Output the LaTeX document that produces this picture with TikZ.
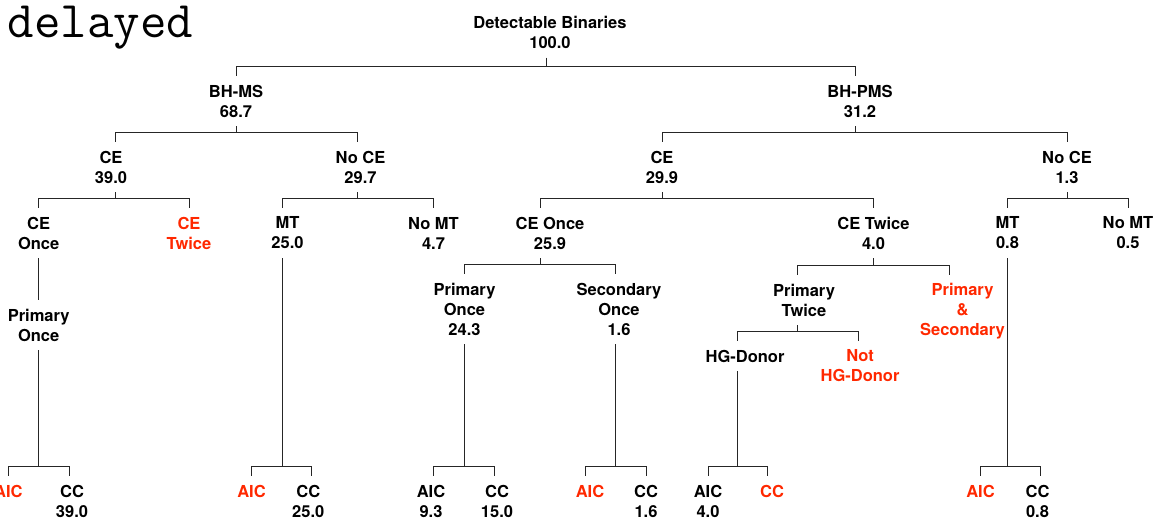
\documentclass[tikz,border=0pt]{standalone}
\usepackage{fontspec}
\setmainfont{TeX Gyre Heros}
\usetikzlibrary{calc}
\definecolor{tred}{RGB}{255,40,0}
\begin{document}
\begin{tikzpicture}[x=1pt,y=-1pt,
  lbl/.style={inner xsep=0pt, inner ysep=9pt, outer sep=0pt, align=center, font=\fontsize{16.5}{20}\selectfont\bfseries},
  hot/.style={lbl, text=tred},
  link/.style={draw=black!85, line width=1pt}]
\useasboundingbox (0,0) rectangle (1159,522);

\node[anchor=base west, inner sep=0pt, font=\fontsize{51.4}{52}\selectfont\ttfamily] (title) at (7.5,37) {delayed};

% level 0-1
\node[lbl] (root) at (550,32.5) {Detectable Binaries\\100.0};
\node[lbl] (bhms) at (236,101) {BH-MS\\68.7};
\node[lbl] (bhpms) at (860,101) {BH-PMS\\31.2};
% level 2
\node[lbl] (ce1) at (111,167) {CE\\39.0};
\node[lbl] (noce1) at (360.5,167) {No CE\\29.7};
\node[lbl] (ce2) at (662,167) {CE\\29.9};
\node[lbl] (noce2) at (1067,167) {No CE\\1.3};
% level 3
\node[lbl] (ceonce1) at (38.7,233) {CE\\Once};
\node[hot] (cetwice1) at (189,233) {CE\\Twice};
\node[lbl] (mt1) at (287.5,233) {MT\\25.0};
\node[lbl] (nomt1) at (433.5,233) {No MT\\4.7};
\node[lbl] (ceonce2) at (550,233) {CE Once\\25.9};
\node[lbl] (cetwice2) at (873.5,233) {CE Twice\\4.0};
\node[lbl] (mt2) at (1007.5,233) {MT\\0.8};
\node[lbl] (nomt2) at (1128,233) {No MT\\0.5};
% level 4
\node[lbl] (primonce1) at (38.7,325) {Primary\\Once};
\node[lbl] (primonce2) at (464.5,309) {Primary\\Once\\24.3};
\node[lbl] (seconce) at (619,309) {Secondary\\Once\\1.6};
\node[lbl] (primtwice) at (804,300) {Primary\\Twice};
\node[hot] (primsec) at (962.5,311.6) {Primary\\\&\\Secondary};
% level 5
\node[lbl] (hgd) at (745,356) {HG-Donor};
\node[hot] (nothgd) at (860,366) {Not\\HG-Donor};
% leaves
\node[hot] (aic1) at (8.3,491) {AIC};
\node[lbl] (cc1) at (72,501) {CC\\39.0};
\node[hot] (aic2) at (251.5,491) {AIC};
\node[lbl] (cc2) at (308.3,501) {CC\\25.0};
\node[lbl] (aic3) at (431,501) {AIC\\9.3};
\node[lbl] (cc3) at (497,501) {CC\\15.0};
\node[hot] (aic4) at (590,491) {AIC};
\node[lbl] (cc4) at (646,501) {CC\\1.6};
\node[lbl] (aic5) at (708,501) {AIC\\4.0};
\node[hot] (cc5) at (772,491) {CC};
\node[hot] (aic6) at (980.5,491) {AIC};
\node[lbl] (cc6) at (1037.5,501) {CC\\0.8};

% connectors
\draw[link] (bhms.north) -- ++(0,-9) coordinate (r0) -| ([xshift=-5pt]bhpms.north);
\draw[link] ([xshift=-4pt]root.south) |- (r0);

\draw[link] ([xshift=4pt]ce1.north) -- ++(0,-9) coordinate (r1) -| ([xshift=-3.5pt]noce1.north);
\draw[link] (bhms.south) |- (r1);

\draw[link] (ce2.north) -- ++(0,-9) coordinate (r2) -| (noce2.north);
\draw[link] ([xshift=-5pt]bhpms.south) |- (r2);

\draw[link] (ceonce1.north) -- ++(0,-9) coordinate (r3) -| (cetwice1.north);
\draw[link] ([xshift=4pt]ce1.south) |- (r3);

\draw[link] ([xshift=-5.5pt]mt1.north) -- ++(0,-9) coordinate (r4) -| (nomt1.north);
\draw[link] ([xshift=-3.5pt]noce1.south) |- (r4);

\draw[link] ([xshift=-10pt]ceonce2.north) -- ++(0,-9) coordinate (r5) -| (cetwice2.north);
\draw[link] (ce2.south) |- (r5);

\draw[link] (mt2.north) -- ++(0,-9) coordinate (r6) -| (nomt2.north);
\draw[link] (noce2.south) |- (r6);

\draw[link] (ceonce1.south) -- (primonce1.north);

\draw[link] (aic1.north) -- ++(0,-9) coordinate (r7) -| ([xshift=-3pt]cc1.north);
\draw[link] (primonce1.south) |- (r7);

\draw[link] (aic2.north) -- ++(0,-9) coordinate (r8) -| ([xshift=3.4pt]cc2.north);
\draw[link] ([xshift=-5.5pt]mt1.south) |- (r8);

\draw[link] (primonce2.north) -- ++(0,-9) coordinate (r9) -| ([xshift=-3.3pt]seconce.north);
\draw[link] ([xshift=-10pt]ceonce2.south) |- (r9);

\draw[link] ([xshift=-6.3pt]primtwice.north) -- ++(0,-9) coordinate (r10) -| ([xshift=-12.8pt]primsec.north);
\draw[link] (cetwice2.south) |- (r10);

\draw[link] ([xshift=-8pt]hgd.north) -- ++(0,-9) coordinate (r11) -| ([xshift=-2pt]nothgd.north);
\draw[link] ([xshift=-6.3pt]primtwice.south) |- (r11);

\draw[link] ([xshift=2pt]aic3.north) -- ++(0,-9) coordinate (r12) -| ([xshift=-2.7pt]cc3.north);
\draw[link] (primonce2.south) |- (r12);

\draw[link] ([xshift=-5pt]aic4.north) -- ++(0,-9) coordinate (r13) -| (cc4.north);
\draw[link] ([xshift=-3.3pt]seconce.south) |- (r13);

\draw[link] (aic5.north) -- ++(0,-9) coordinate (r14) -| ([xshift=-5pt]cc5.north);
\draw[link] ([xshift=-8pt]hgd.south) |- (r14);

\draw[link] (aic6.north) -- ++(0,-9) coordinate (r15) -| ([xshift=3.2pt]cc6.north);
\draw[link] (mt2.south) |- (r15);
\end{tikzpicture}
\end{document}
